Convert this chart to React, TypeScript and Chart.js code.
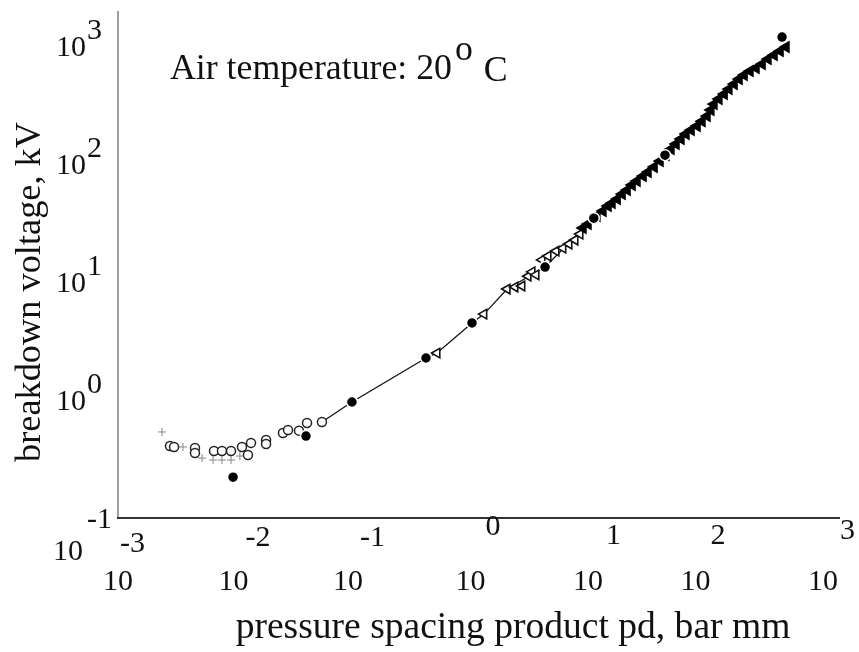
import { useEffect, useRef } from "react";
import { Chart, registerables } from "chart.js";

Chart.register(...registerables);

// ---- data ----
const crossX = [0.00237, 0.00357, 0.00519, 0.00644, 0.00767, 0.00916, 0.0109];
const crossY = [0.536, 0.4, 0.322, 0.31, 0.31, 0.31, 0.335];

const openCircleX = [0.00277, 0.003, 0.00452, 0.00452, 0.00656, 0.00767, 0.00916, 0.01135, 0.01355, 0.01276, 0.0182, 0.0182, 0.02535, 0.028, 0.0347, 0.0406, 0.0544];
const openCircleY = [0.407, 0.4, 0.392, 0.356, 0.37, 0.37, 0.37, 0.4, 0.433, 0.342, 0.458, 0.424, 0.525, 0.557, 0.55, 0.638, 0.652];

const filledCircleX = [0.00953, 0.0398, 0.098, 0.418, 1.03, 4.31, 11.2, 45.2, 448];
const filledCircleY = [0.222, 0.495, 0.962, 2.27, 4.5, 13.4, 34.8, 119, 1191];

const openTriangleX = [0.519, 1.3, 2.05, 2.39, 2.74, 3.09, 3.34, 3.61, 4.06, 4.57, 5.35, 6.12, 6.89, 7.75, 8.55];
const openTriangleY = [2.5, 5.35, 8.72, 9.07, 9.25, 11.2, 12.2, 11.5, 15.4, 16.6, 18.3, 19.4, 21.0, 22.7, 25.5];

const filledTriangleX = [9.06, 10.0, 11.9, 13.4, 14.8, 16.0, 17.7, 19.5, 21.5, 23.7, 26.1, 29.4, 32.4, 36.5, 41.0, 46.1, 50.8, 56.1, 61.8, 68.2, 75.3, 84.7, 93.3, 103, 111, 118, 130, 144, 158, 175, 193, 213, 239, 269, 303, 340, 383, 431, 484];
const filledTriangleY = [28.7, 31.0, 36.3, 40.0, 44.1, 46.7, 50.5, 55.7, 60.2, 66.4, 71.8, 79.1, 85.5, 94.4, 106, 119, 134, 148, 163, 180, 194, 210, 231, 255, 287, 322, 356, 392, 432, 476, 525, 568, 614, 651, 703, 776, 839, 907, 981];

const curveX = [0.0544, 0.098, 0.418, 0.519, 1.03, 1.3, 2.05, 4.31, 11.2];
const curveY = [0.652, 0.962, 2.27, 2.5, 4.5, 5.35, 8.72, 13.4, 34.8];

const xTicks = [1e-3, 1e-2, 1e-1, 1, 10, 100, 1000];
const xTickExp = ["-3", "-2", "-1", "0", "1", "2", "3"];
const yTicks = [1e-1, 1, 10, 100, 1000];
const yTickExp = ["-1", "0", "1", "2", "3"];

const xTitle = "pressure spacing product pd, bar mm";
const yTitle = "breakdown voltage, kV";
const noteText = "Air temperature: 20";
const noteDegree = "o";
const noteUnit = "C";

// ---- styling (positions of the odd label layout) ----
const X_LABEL_DX = [0, -2, -5, 0, 0, -10, 0];
const X_EXP_DX = [-13, -3, -3, 0, 3, 0, 2];
const X_EXP_RAISE = [38, 44, 44, 55, 46, 46, 51];

const SERIF = '"Liberation Serif", "Times New Roman", serif';
const TICK_FONT = 30;

const pts = (xs: number[], ys: number[]) => xs.map((x, i) => ({ x, y: ys[i] }));

function fitSize(ctx: CanvasRenderingContext2D, text: string, width: number) {
  ctx.font = `30px ${SERIF}`;
  const w = ctx.measureText(text).width;
  return (30 * width) / w;
}

const overlay = {
  id: "overlay",
  afterDraw(chart: any) {
    const { ctx, chartArea, scales } = chart;
    const xs = scales.x;
    const ys = scales.y;
    ctx.save();
    // axis lines
    ctx.lineWidth = 2;
    ctx.strokeStyle = "#a0a0a0";
    ctx.beginPath();
    ctx.moveTo(chartArea.left, chartArea.top);
    ctx.lineTo(chartArea.left, chartArea.bottom);
    ctx.stroke();
    ctx.strokeStyle = "#333";
    ctx.beginPath();
    ctx.moveTo(chartArea.left - 1, chartArea.bottom);
    ctx.lineTo(chartArea.right, chartArea.bottom);
    ctx.stroke();

    ctx.fillStyle = "#111";
    ctx.textBaseline = "alphabetic";
    ctx.font = `${TICK_FONT}px ${SERIF}`;
    const baseW = ctx.measureText("10").width;
    // x tick labels
    xTicks.forEach((v, i) => {
      const px = xs.getPixelForValue(v) + X_LABEL_DX[i];
      ctx.textAlign = "center";
      ctx.fillText("10", px, 590);
      ctx.textAlign = "left";
      ctx.fillText(xTickExp[i], px + baseW / 2 + X_EXP_DX[i], 590 - X_EXP_RAISE[i]);
    });
    // y tick labels
    yTicks.forEach((v, i) => {
      const py = ys.getPixelForValue(v);
      if (i === 0) {
        ctx.textAlign = "right";
        ctx.fillText("10", 83, py + 42);
        ctx.textAlign = "left";
        ctx.fillText(yTickExp[i], 87, py + 10);
      } else {
        ctx.textAlign = "right";
        ctx.fillText("10", 86, py + 10);
        ctx.textAlign = "left";
        ctx.fillText(yTickExp[i], 87, py - 7);
      }
    });

    // axis titles
    const xs2 = fitSize(ctx, xTitle, 555);
    ctx.font = `${xs2}px ${SERIF}`;
    ctx.textAlign = "center";
    ctx.fillText(xTitle, 513, 638);

    const ys2 = fitSize(ctx, yTitle, 340);
    ctx.save();
    ctx.translate(30, 292);
    ctx.rotate(-Math.PI / 2);
    ctx.font = `${ys2}px ${SERIF}`;
    ctx.textAlign = "center";
    ctx.textBaseline = "middle";
    ctx.fillText(yTitle, 0, 0);
    ctx.restore();

    // annotation
    const ns = fitSize(ctx, noteText, 282);
    ctx.font = `${ns}px ${SERIF}`;
    ctx.textAlign = "left";
    ctx.textBaseline = "alphabetic";
    ctx.fillText(noteText, 170, 79);
    const end = 170 + ctx.measureText(noteText).width;
    ctx.fillText(noteDegree, end + 3, 60);
    const oEnd = end + 3 + ctx.measureText(noteDegree).width;
    ctx.fillText(noteUnit, oEnd + 11, 81);
    ctx.restore();
  },
};

export default function App() {
  const ref = useRef<HTMLCanvasElement | null>(null);
  useEffect(() => {
    if (!ref.current) return;
    const chart = new Chart(ref.current, {
      type: "scatter",
      data: {
        datasets: [
          {
            label: "filled circles",
            data: pts(filledCircleX, filledCircleY),
            pointStyle: "circle",
            pointRadius: 5.5,
            backgroundColor: "#000",
            borderColor: "#fff",
            borderWidth: 1.5,
            order: 1,
          } as any,
          {
            label: "filled triangles",
            data: pts(filledTriangleX, filledTriangleY),
            pointStyle: "triangle",
            rotation: -90,
            pointRadius: 6,
            backgroundColor: "#000",
            borderColor: "#000",
            borderWidth: 1.5,
            order: 2,
          },
          {
            label: "open triangles",
            data: pts(openTriangleX, openTriangleY),
            pointStyle: "triangle",
            rotation: -90,
            pointRadius: 5.5,
            backgroundColor: "#fff",
            borderColor: "#111",
            borderWidth: 1.6,
            order: 3,
          },
          {
            label: "open circles",
            data: pts(openCircleX, openCircleY),
            pointStyle: "circle",
            pointRadius: 4.5,
            backgroundColor: "#fff",
            borderColor: "#222",
            borderWidth: 1.5,
            order: 4,
          },
          {
            label: "crosses",
            data: pts(crossX, crossY),
            pointStyle: "cross",
            pointRadius: 4,
            backgroundColor: "#888",
            borderColor: "#888",
            borderWidth: 1,
            order: 5,
          },
          {
            label: "curve",
            data: pts(curveX, curveY),
            showLine: true,
            pointRadius: 0,
            borderColor: "#111",
            borderWidth: 1.3,
            order: 10,
          },
        ],
      },
      options: {
        animation: false,
        responsive: false,
        events: [],
        layout: { padding: { left: 118, right: 19, top: 11, bottom: 134 } },
        plugins: { legend: { display: false }, tooltip: { enabled: false } },
        scales: {
          x: { type: "logarithmic", min: 1e-3, max: 1395, display: false },
          y: { type: "logarithmic", min: 0.1, max: 1982, display: false },
        },
      },
      plugins: [overlay],
    });
    return () => chart.destroy();
  }, []);
  return (
    <div style={{ position: "absolute", left: 0, top: 0, width: 859, height: 652, background: "#fff" }}>
      <canvas ref={ref} width={859} height={652} />
    </div>
  );
}
